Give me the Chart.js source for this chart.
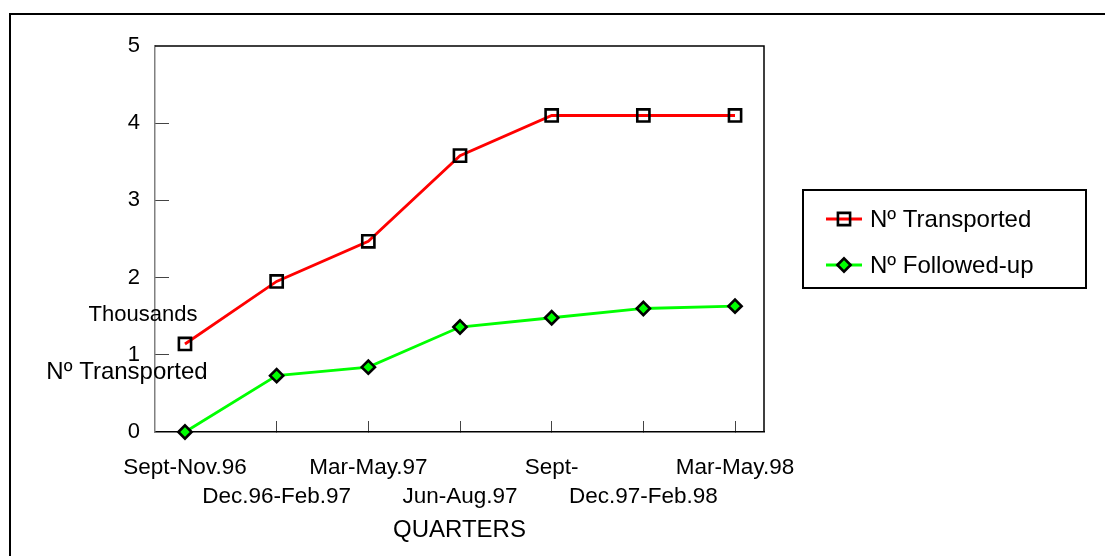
<!DOCTYPE html>
<html>
<head>
<meta charset="utf-8">
<script src="https://cdn.jsdelivr.net/npm/chart.js@4/dist/chart.umd.min.js"></script>
<style>
  body { margin: 0; background: #fff; }
  #wrap { position: relative; width: 1105px; height: 556px; }
  #frame { position: absolute; left: 9px; top: 13px; right: 0; bottom: 0;
           border-left: 2px solid #000; border-top: 2px solid #000; pointer-events: none; }
</style>
</head>
<body>
<div id="wrap">
  <canvas id="myChart" width="1105" height="556"></canvas>
  <div id="frame"></div>
</div>
<script>
// quarters on the x axis ("Sept-" is cut off like that in the original)
const quarters = ['Sept-Nov.96', 'Dec.96-Feb.97', 'Mar-May.97', 'Jun-Aug.97', 'Sept-', 'Dec.97-Feb.98', 'Mar-May.98'];
// values in thousands
const transported = [1.14, 1.95, 2.47, 3.58, 4.10, 4.10, 4.10];
const followedUp = [0, 0.73, 0.84, 1.36, 1.48, 1.60, 1.63];
const yTicks = [0, 1, 2, 3, 4, 5];

const FONT = '"Liberation Sans", Arial, sans-serif';

var ctx = document.getElementById('myChart');

function toPoints(arr) {
  return arr.map((v, i) => ({ x: i, y: v }));
}

// frame on top/right, y title text and the boxed legend
const extras = {
  id: 'extras',
  afterDraw(chart) {
    const c = chart.ctx;
    const a = chart.chartArea;
    c.save();
    c.strokeStyle = '#000';
    c.lineWidth = 1.5;
    c.beginPath();
    c.moveTo(a.left, a.top);
    c.lineTo(a.right, a.top);
    c.lineTo(a.right, a.bottom);
    c.stroke();

    c.fillStyle = '#000';
    c.textAlign = 'center';
    c.textBaseline = 'middle';
    c.font = '22px ' + FONT;
    c.fillText('Thousands', 143, 315);
    c.font = '24px ' + FONT;
    c.fillText('N\u00ba Transported', 127, 372);

    // legend
    c.lineWidth = 2;
    c.strokeRect(803, 190, 283, 98);
    const rows = [219, 265];
    chart.data.datasets.forEach((ds, i) => {
      const y = rows[i];
      c.strokeStyle = ds.borderColor;
      c.lineWidth = ds.borderWidth;
      c.beginPath();
      c.moveTo(826, y);
      c.lineTo(862, y);
      c.stroke();
      c.fillStyle = ds.pointBackgroundColor;
      c.strokeStyle = ds.pointBorderColor;
      c.lineWidth = ds.pointBorderWidth;
      Chart.helpers.drawPoint(c, {
        pointStyle: ds.pointStyle,
        radius: ds.pointRadius,
        borderWidth: ds.pointBorderWidth,
        rotation: 0
      }, 844, y);
      c.fillStyle = '#000';
      c.textAlign = 'left';
      c.font = '24px ' + FONT;
      c.fillText(ds.label, 870, y + 1);
    });
    c.restore();
  }
};

var myChart = new Chart(ctx, {
  type: 'line',
  data: {
    datasets: [{
      label: 'N\u00ba Transported',
      data: toPoints(transported),
      borderColor: '#ff0000',
      borderWidth: 2.8,
      pointStyle: 'rect',
      pointRadius: 8.6,
      pointBackgroundColor: 'rgba(0,0,0,0)',
      pointBorderColor: '#000',
      pointBorderWidth: 2.6,
      tension: 0,
      clip: false
    }, {
      label: 'N\u00ba Followed-up',
      data: toPoints(followedUp),
      borderColor: '#00ff00',
      borderWidth: 2.8,
      pointStyle: 'rectRot',
      pointRadius: 6.6,
      pointBackgroundColor: '#00ff00',
      pointBorderColor: '#000',
      pointBorderWidth: 2.6,
      tension: 0,
      clip: false
    }]
  },
  options: {
    responsive: false,
    animation: false,
    layout: { padding: { top: 46, right: 341, bottom: 0, left: 0 } },
    plugins: { legend: { display: false }, tooltip: { enabled: false } },
    scales: {
      x: {
        type: 'linear',
        min: -0.327,
        max: 6.316,
        afterFit: s => { s.height = 124; },
        afterBuildTicks: s => { s.ticks = quarters.map((q, i) => ({ value: i })); },
        border: { color: '#000', width: 1.5 },
        grid: {
          drawOnChartArea: false,
          tickLength: -11,
          color: c => (c.tick && c.tick.value === 0) ? 'rgba(0,0,0,0)' : '#444'
        },
        ticks: {
          autoSkip: false,
          maxRotation: 0,
          padding: 32,
          color: '#000',
          font: { family: FONT, size: 22.5, lineHeight: '29px' },
          callback: (v) => (v % 2 === 1) ? ['', quarters[v]] : quarters[v]
        },
        title: {
          display: true,
          text: 'QUARTERS',
          color: '#000',
          font: { family: FONT, size: 24 },
          padding: { top: 0, bottom: 11 }
        }
      },
      y: {
        min: 0,
        max: 5,
        afterFit: s => { s.width = 155; },
        afterBuildTicks: s => { s.ticks = yTicks.map(v => ({ value: v })); },
        border: { color: '#808080', width: 1.5 },
        grid: {
          drawOnChartArea: false,
          tickLength: -14,
          color: c => (c.tick && (c.tick.value === 0 || c.tick.value === 5)) ? 'rgba(0,0,0,0)' : '#444'
        },
        ticks: {
          padding: 29,
          color: '#000',
          font: { family: FONT, size: 22 }
        }
      }
    }
  },
  plugins: [extras]
});
</script>
</body>
</html>
